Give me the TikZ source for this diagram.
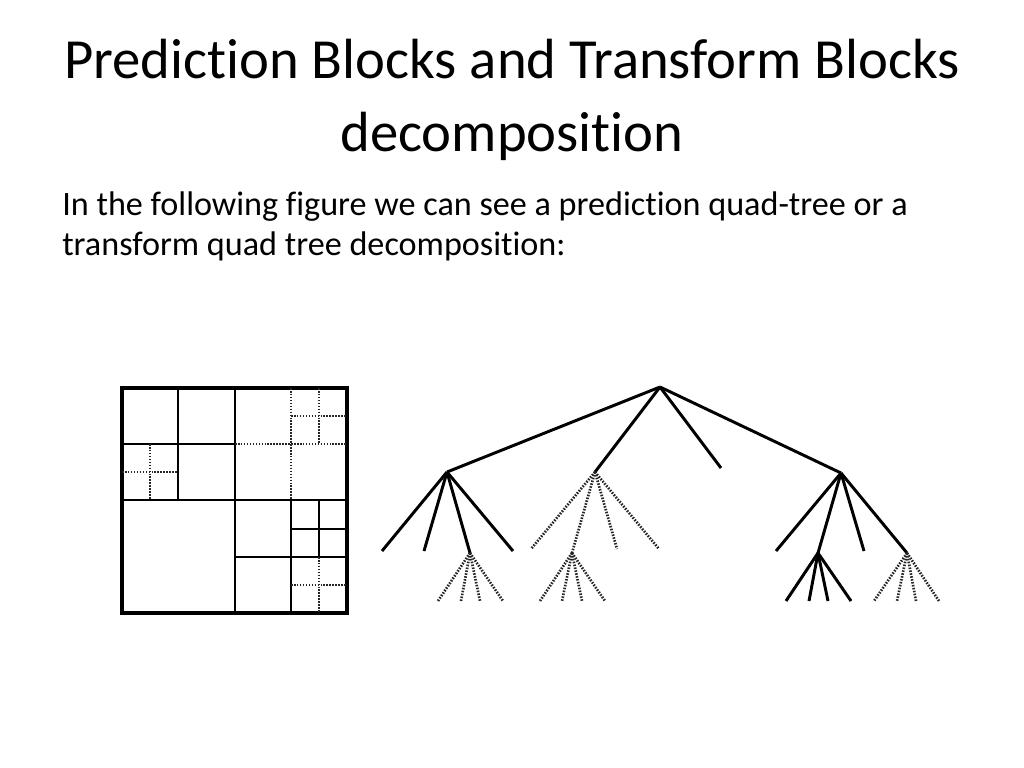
\documentclass[tikz,border=0pt]{standalone}
\usepackage{fontspec}
\setmainfont{Carlito}[Ligatures=NoCommon]
\begin{document}
\begin{tikzpicture}[x=0.025cm,y=-0.025cm,
  title/.style={anchor=base,inner sep=0pt,font=\fontsize{40.3}{44}\selectfont},
  body/.style={anchor=base west,inner sep=0pt,font=\fontsize{24.3}{28}\selectfont},
  frame/.style={line width=2.6pt},
  split/.style={line width=2.1pt},
  dotsplit/.style={line width=1.9pt,black!85,dash pattern=on 1.1pt off 1pt},
  branch/.style={line width=2.1pt},
  dotbranch/.style={line width=1.9pt,black!85,dash pattern=on 1.1pt off 1pt}]
  \useasboundingbox (0,0) rectangle (1024,768);
  \node[title] (title1) at (512,79) {Prediction Blocks and Transform Blocks};
  \node[title] (title2) at (512,152) {decomposition};
  \node[body] (text1) at (62,215) {In the following figure we can see a prediction quad-tree or a};
  \node[body] (text2) at (62,255) {transform quad tree decomposition:};

  % block partition
  \draw[frame] (122,388) rectangle (347,613);
  \draw[split] (235,388) -- (235,613) (122,500) -- (347,500);
  \draw[split] (178,388) -- (178,500) (122,444) -- (235,444);
  \draw[dotsplit] (150,444) -- (150,500) (122,472) -- (178,472);
  \draw[dotsplit] (291,388) -- (291,500) (235,444) -- (347,444);
  \draw[dotsplit] (319,388) -- (319,444) (291,416) -- (347,416);
  \draw[split] (291,500) -- (291,613) (235,557) -- (347,557);
  \draw[split] (319,500) -- (319,557) (291,529) -- (347,529);
  \draw[dotsplit] (319,557) -- (319,613) (291,585) -- (347,585);

  % quad-tree
  \coordinate (root) at (660,387);
  \coordinate (a) at (447,472);
  \coordinate (b) at (595,472);
  \coordinate (c) at (721,468);
  \coordinate (d) at (841,473);
  \coordinate (a-1) at (382,551);
  \coordinate (a-2) at (424,551);
  \coordinate (a-3) at (470,553);
  \coordinate (a-4) at (513,551);
  \coordinate (b-1) at (531,549);
  \coordinate (b-2) at (572,553);
  \coordinate (b-3) at (617,549);
  \coordinate (b-4) at (659,549);
  \coordinate (d-1) at (776,551);
  \coordinate (d-2) at (818,553);
  \coordinate (d-3) at (864,551);
  \coordinate (d-4) at (907,553);
  \foreach \n/\x in {1/438,2/461,3/480,4/503} \coordinate (a-3-\n) at (\x,601);
  \foreach \n/\x in {1/540,2/562,3/582,4/605} \coordinate (b-2-\n) at (\x,601);
  \foreach \n/\x in {1/786,2/809,3/828,4/851} \coordinate (d-2-\n) at (\x,601);
  \foreach \n/\x in {1/874,2/897,3/916,4/939} \coordinate (d-4-\n) at (\x,601);

  \path[branch]
    (root) edge (a) edge (b) edge (c) edge (d)
    (a) edge (a-1) edge (a-2) edge (a-3) edge (a-4)
    (d) edge (d-1) edge (d-2) edge (d-3) edge (d-4)
    (d-2) edge (d-2-1) edge (d-2-2) edge (d-2-3) edge (d-2-4);
  \path[dotbranch]
    (b) edge (b-1) edge (b-2) edge (b-3) edge (b-4)
    (a-3) edge (a-3-1) edge (a-3-2) edge (a-3-3) edge (a-3-4)
    (b-2) edge (b-2-1) edge (b-2-2) edge (b-2-3) edge (b-2-4)
    (d-4) edge (d-4-1) edge (d-4-2) edge (d-4-3) edge (d-4-4);
\end{tikzpicture}
\end{document}
